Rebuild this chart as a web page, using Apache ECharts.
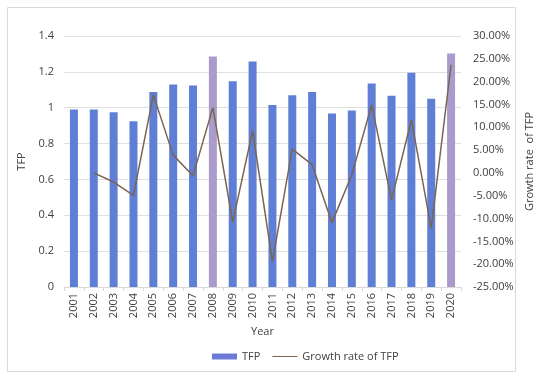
<!DOCTYPE html>
<html><head><meta charset="utf-8">
<script src="https://cdn.jsdelivr.net/npm/echarts@6/dist/echarts.min.js"></script>
<style>html,body{margin:0;padding:0;background:#fff}#c{width:550px;height:377px}</style>
</head><body><div id="c"></div>
<script>
const years = ['2001','2002','2003','2004','2005','2006','2007','2008','2009','2010','2011','2012','2013','2014','2015','2016','2017','2018','2019','2020'];
const tfp = [0.99,0.99,0.975,0.925,1.087,1.13,1.124,1.286,1.148,1.258,1.015,1.07,1.088,0.968,0.985,1.135,1.067,1.195,1.05,1.302];
const growth = [null,0,-2.0,-4.9,17.1,3.9,-0.6,14.3,-10.8,9.2,-19.4,5.2,1.8,-10.9,-0.4,14.9,-5.9,11.6,-12.1,23.7];
const highlightYears = ['2008','2020'];
const leftTicks = {min:0,max:1.4,interval:0.2};
const rightTicks = {min:-25,max:30,interval:5};

const blue = '#5f7fd6', lav = '#a99ccc', lineCol = '#7b6450';
const chart = echarts.init(document.getElementById('c'));
const font = 'Open Sans';
chart.setOption({
  animation:false,
  textStyle:{fontFamily:font},
  graphic:[{type:'rect',shape:{x:7.5,y:7.5,width:508,height:364},style:{fill:'none',stroke:'#d9d9d9',lineWidth:1}}],
  grid:{left:64,right:89,top:36,bottom:90},
  legend:{left:207,top:346,itemGap:12,textStyle:{fontSize:11,color:'#404040',fontFamily:font},
    data:[{name:'TFP',icon:'rect',itemStyle:{color:'#6a7ad6'}},
          {name:'Growth rate of TFP',icon:'path://M0,0H25V1H0Z',itemStyle:{color:lineCol}}],
    itemWidth:25,itemHeight:6},
  xAxis:{type:'category',data:years,name:'Year',nameLocation:'middle',nameGap:39,
    nameTextStyle:{fontSize:11,color:'#404040'},
    axisLine:{lineStyle:{color:'#d9d9d9'}},axisTick:{show:true,length:4,lineStyle:{color:'#d9d9d9'}},
    axisLabel:{rotate:90,fontSize:11,color:'#404040',margin:6}},
  yAxis:[
    {type:'value',min:leftTicks.min,max:leftTicks.max,interval:leftTicks.interval,name:'TFP',nameLocation:'middle',nameRotate:90,nameGap:36,
     nameTextStyle:{fontSize:11,color:'#404040'},
     axisLine:{show:false},axisTick:{show:false},
     axisLabel:{fontSize:11,color:'#404040',margin:10,formatter:v=>String(+v.toFixed(1))},
     splitLine:{lineStyle:{color:'#e0e0e0'}}},
    {type:'value',min:rightTicks.min,max:rightTicks.max,interval:rightTicks.interval,name:'Growth rate  of TFP',nameLocation:'middle',nameRotate:90,nameGap:51,
     nameTextStyle:{fontSize:11,color:'#404040'},
     axisLine:{show:false},axisTick:{show:false},splitLine:{show:false},
     axisLabel:{fontSize:11,color:'#404040',margin:12,formatter:v=>v.toFixed(2)+'%'}}
  ],
  series:[
    {name:'TFP',type:'bar',barWidth:8,data:tfp.map((v,i)=>({value:v,itemStyle:{color:highlightYears.includes(years[i])?lav:blue}})),itemStyle:{color:blue}},
    {name:'Growth rate of TFP',type:'line',yAxisIndex:1,data:growth,symbol:'none',connectNulls:false,
     lineStyle:{color:lineCol,width:1.5},itemStyle:{color:lineCol}}
  ]
});
</script></body></html>
